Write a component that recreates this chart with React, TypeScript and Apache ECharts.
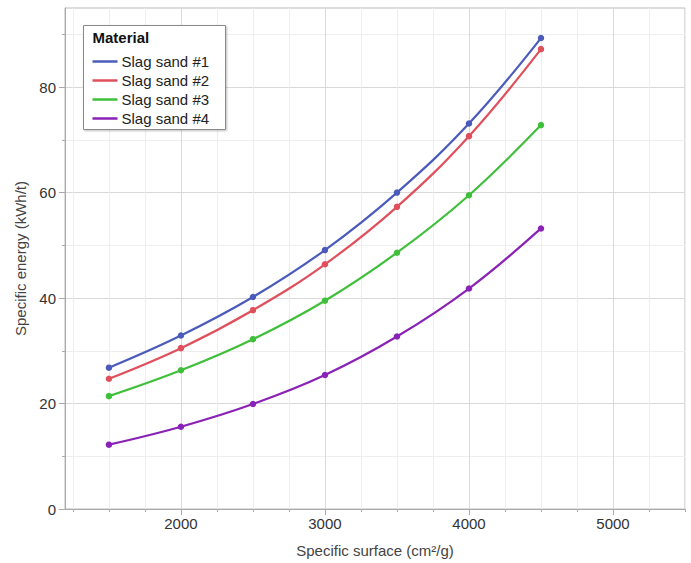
import React, { useEffect, useRef } from "react";
import * as echarts from "echarts";

const surfaces = [1500, 2000, 2500, 3000, 3500, 4000, 4500];
const slagSand1 = [26.8, 32.9, 40.2, 49.1, 60.0, 73.1, 89.3];
const slagSand2 = [24.7, 30.5, 37.7, 46.4, 57.3, 70.7, 87.2];
const slagSand3 = [21.4, 26.3, 32.2, 39.5, 48.6, 59.5, 72.8];
const slagSand4 = [12.2, 15.6, 19.9, 25.4, 32.7, 41.8, 53.2];
const seriesNames = ["Slag sand #1", "Slag sand #2", "Slag sand #3", "Slag sand #4"];
const xMajorTicks = [2000, 3000, 4000, 5000];
const xMinorTicks = [1250, 1500, 1750, 2250, 2500, 2750, 3250, 3500, 3750, 4250, 4500, 4750, 5250, 5500];
const yMajorTicks = [0, 20, 40, 60, 80];
const yMinorTicks = [10, 30, 50, 70, 90];

const colors = ["#4b5bbb", "#e0505c", "#3fbf3a", "#8a22b6"];
const FONT = "'Liberation Sans', Arial, Helvetica, sans-serif";

export default function App() {
  const ref = useRef<HTMLDivElement>(null);
  useEffect(() => {
    if (!ref.current) return;
    const chart = echarts.init(ref.current, undefined, { renderer: "svg" });
    const allData = [slagSand1, slagSand2, slagSand3, slagSand4];
    const axisLineColor = "#aaaaaa";
    const xMin = 1195;
    const xMax = 5500;
    const yMin = 0;
    const yMax = 95;
    chart.setOption({
      animation: false,
      textStyle: { fontFamily: FONT },
      grid: {
        left: 65,
        right: 6,
        top: 8,
        bottom: 52.5,
        show: true,
        borderColor: "#bbbbbb",
        borderWidth: 1,
        backgroundColor: "transparent",
      },
      xAxis: [
        {
          type: "value",
          position: "bottom",
          min: xMin,
          max: xMax,
          name: "Specific surface (cm²/g)",
          nameLocation: "middle",
          nameGap: 34,
          nameTextStyle: { fontSize: 15, color: "#444", fontFamily: FONT },
          axisLine: { show: true, onZero: false, lineStyle: { color: axisLineColor } },
          axisTick: { show: true, length: 6, customValues: xMajorTicks, lineStyle: { color: axisLineColor } },
          axisLabel: {
            customValues: xMajorTicks,
            fontSize: 15,
            color: "#333",
            margin: 7,
            fontFamily: FONT,
            formatter: (v: number) => String(v),
          },
          splitLine: { show: true, lineStyle: { color: "#d9d9d9", width: 1 } },
        },
        {
          type: "value",
          position: "bottom",
          min: xMin,
          max: xMax,
          axisLine: { show: false, onZero: false },
          axisTick: { show: true, length: 3, customValues: xMinorTicks, lineStyle: { color: axisLineColor } },
          axisLabel: { show: false },
          splitLine: { show: true, lineStyle: { color: "#eeeeee", width: 1 } },
        },
      ],
      yAxis: [
        {
          type: "value",
          position: "left",
          min: yMin,
          max: yMax,
          name: "Specific energy (kWh/t)",
          nameLocation: "middle",
          nameGap: 36,
          nameTextStyle: { fontSize: 15, color: "#444", fontFamily: FONT },
          axisLine: { show: true, onZero: false, lineStyle: { color: axisLineColor } },
          axisTick: { show: true, length: 6, customValues: yMajorTicks, lineStyle: { color: axisLineColor } },
          axisLabel: {
            customValues: yMajorTicks,
            fontSize: 15,
            color: "#333",
            margin: 9,
            fontFamily: FONT,
            formatter: (v: number) => String(v),
          },
          splitLine: { show: true, lineStyle: { color: "#d9d9d9", width: 1 } },
        },
        {
          type: "value",
          position: "left",
          min: yMin,
          max: yMax,
          axisLine: { show: false, onZero: false },
          axisTick: { show: true, length: 3, customValues: yMinorTicks, lineStyle: { color: axisLineColor } },
          axisLabel: { show: false },
          splitLine: { show: true, lineStyle: { color: "#eeeeee", width: 1 } },
        },
      ],
      legend: {
        orient: "vertical",
        left: 92.5,
        top: 54,
        padding: 0,
        icon: "rect",
        itemWidth: 25,
        itemHeight: 2.5,
        itemGap: 4,
        z: 5,
        textStyle: { fontSize: 15, color: "#222", fontFamily: FONT, padding: [0, 0, 0, -1] },
        data: seriesNames,
      },
      graphic: [
        {
          type: "rect",
          z: 4,
          shape: { x: 83.5, y: 25.5, width: 142, height: 104 },
          style: {
            fill: "#ffffff",
            stroke: "#8a8a8a",
            lineWidth: 1,
            shadowBlur: 2,
            shadowColor: "rgba(0,0,0,0.25)",
            shadowOffsetX: 1,
            shadowOffsetY: 1,
          },
        },
        {
          type: "text",
          z: 5,
          x: 92.5,
          y: 37,
          style: {
            text: "Material",
            font: `bold 15px ${FONT}`,
            fill: "#111",
            verticalAlign: "middle",
            align: "left",
          },
        },
      ],
      series: seriesNames.map((name, si) => ({
        name,
        type: "line",
        xAxisIndex: 0,
        yAxisIndex: 0,
        smooth: 0.4,
        symbol: "circle",
        symbolSize: 6.5,
        showSymbol: true,
        z: 2,
        lineStyle: { color: colors[si], width: 2.2 },
        itemStyle: { color: colors[si] },
        data: surfaces.map((x, i) => [x, allData[si][i]]),
      })),
    });
    return () => chart.dispose();
  }, []);
  return (
    <div
      ref={ref}
      style={{ position: "fixed", left: 0, top: 0, width: 691, height: 563, background: "#fff" }}
    />
  );
}
